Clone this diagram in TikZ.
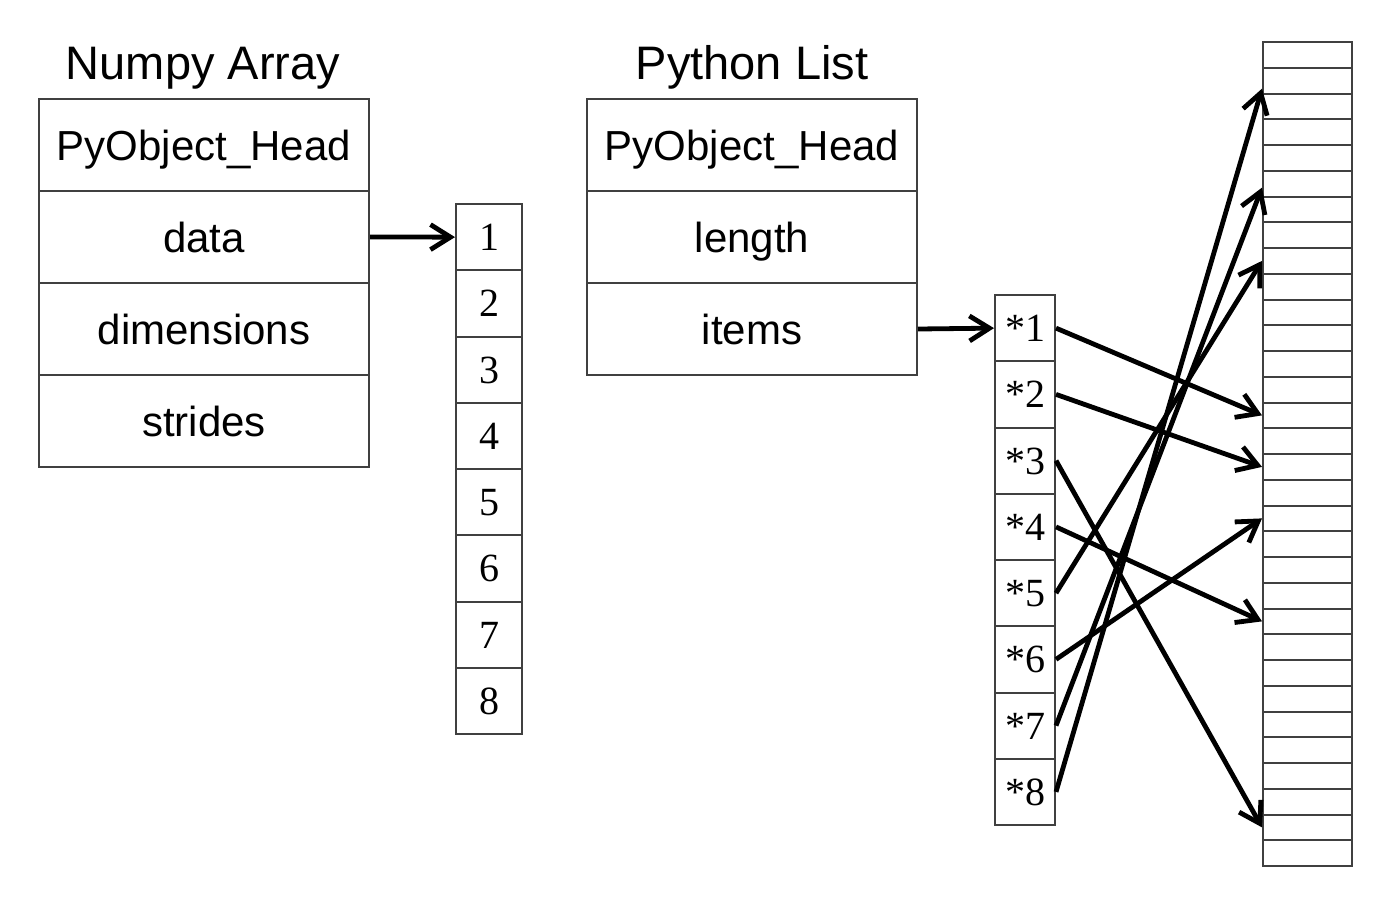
\documentclass[tikz,border=0pt]{standalone}
\usepackage{fontspec}
\setmainfont{Liberation Serif}
\newfontfamily\arialf{Liberation Sans}
\usetikzlibrary{arrows.meta}
\begin{document}
\begin{tikzpicture}[x=0.5pt,y=-0.5pt,
  cellline/.style={draw=black!75, line width=1pt, inner sep=0pt, anchor=north west},
  field/.style={cellline, minimum width=165pt, minimum height=46pt,
    font=\arialf\fontsize{21pt}{25pt}\selectfont, text height=15pt, text depth=0pt},
  title/.style={font=\arialf\fontsize{23.5pt}{28pt}\selectfont, text height=16.8pt, text depth=0pt, inner sep=0pt},
  datacell/.style={cellline, minimum width=33pt, minimum height=33.125pt,
    font=\fontsize{20pt}{24pt}\selectfont, text height=13.5pt, text depth=0pt},
  ptrcell/.style={cellline, minimum width=30pt, minimum height=33.125pt,
    font=\fontsize{20pt}{24pt}\selectfont, text height=13.5pt, text depth=0pt},
  memcell/.style={cellline, minimum width=44.5pt, minimum height=12.875pt},
  link/.style={line width=2.4pt, -{Straight Barb[length=10pt,width=12.5pt,line width=2.4pt]}}
]
\useasboundingbox (0,0) rectangle (1379,922);

% Numpy array
\node[title] (ntitle) at (203,63) {Numpy Array};
\node[field] (nhead) at (38,98) {PyObject\_Head};
\node[field] (ndata) at (38,190) {data};
\node[field] (ndim) at (38,282) {dimensions};
\node[field] (nstr) at (38,374) {strides};

% data block
\foreach \i in {1,...,8} {
  \node[datacell] (d\i) at (455,{203+66.25*(\i-1)}) {\i};
}

% Python list
\node[title] (ptitle) at (752,63) {Python List};
\node[field] (phead) at (586,98) {PyObject\_Head};
\node[field] (plen) at (586,190) {length};
\node[field] (pitems) at (586,282) {items};

% pointer block
\foreach \i in {1,...,8} {
  \node[ptrcell] (c\i) at (994,{294+66.25*(\i-1)}) {*\i};
}

% memory column
\foreach \k in {0,...,31} {
  \node[memcell] (m\k) at (1262,{41+25.75*\k}) {};
}

% connectors
\draw[link] (ndata.east) -- (d1.west);
\draw[link] (pitems.east) -- (c1.west);
\draw[link] (c1.east) -- (m14.west);
\draw[link] (c2.east) -- (m16.west);
\draw[link] (c3.east) -- (m30.west);
\draw[link] (c4.east) -- (m22.west);
\draw[link] (c5.east) -- (m8.west);
\draw[link] (c6.east) -- (m18.west);
\draw[link] (c7.east) -- ([yshift=-2pt]m5.west);
\draw[link] (c8.east) -- ([yshift=-4pt]m1.west);
\end{tikzpicture}
\end{document}
